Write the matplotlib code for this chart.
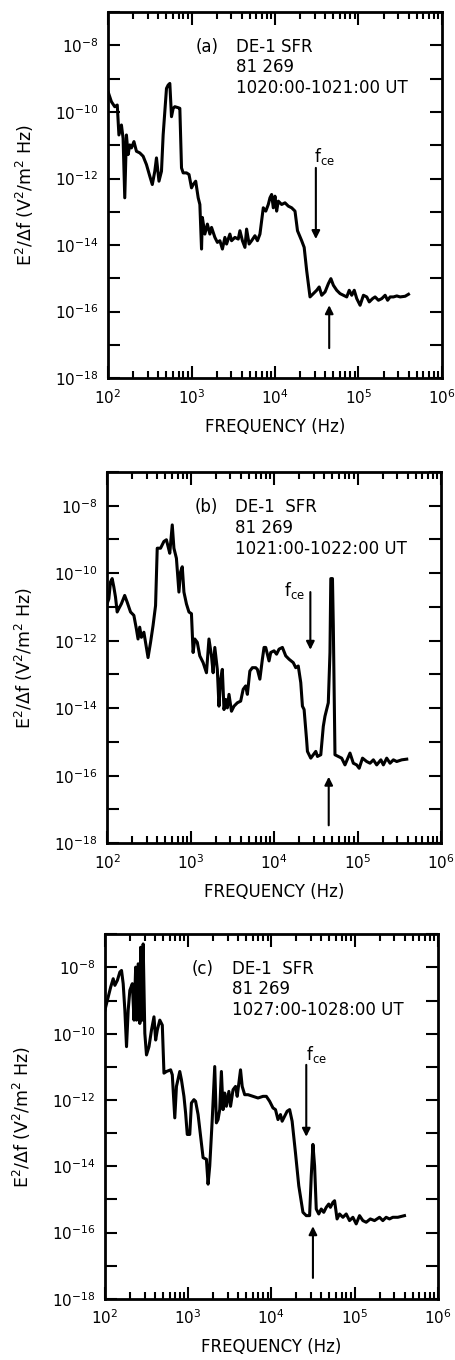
import matplotlib
matplotlib.use('Agg')
import matplotlib.pyplot as plt
from matplotlib.ticker import FixedLocator, LogLocator, NullFormatter, NullLocator, FuncFormatter
import numpy as np

plt.rcParams['font.family'] = ['DejaVu Sans']
plt.rcParams['mathtext.default'] = 'regular'

# spectra: log10 frequency (Hz), log10 E^2/df (V^2/m^2 Hz)
logf_a = [2.00, 2.04, 2.08, 2.11, 2.13, 2.16, 2.18, 2.20, 2.22, 2.24,
          2.26, 2.28, 2.31, 2.34, 2.38, 2.42, 2.46, 2.50, 2.53, 2.56,
          2.58, 2.61, 2.64, 2.66, 2.70, 2.72, 2.74, 2.76, 2.78, 2.80,
          2.84, 2.86, 2.88, 2.90, 2.94, 2.97, 3.00, 3.02, 3.05, 3.08,
          3.10, 3.12, 3.13, 3.16, 3.19, 3.22, 3.24, 3.28, 3.31, 3.34,
          3.37, 3.40, 3.42, 3.46, 3.48, 3.52, 3.56, 3.58, 3.61, 3.64,
          3.66, 3.69, 3.72, 3.76, 3.79, 3.82, 3.86, 3.89, 3.92, 3.94,
          3.96, 3.98, 4.00, 4.02, 4.04, 4.08, 4.12, 4.16, 4.20, 4.24,
          4.27, 4.32, 4.35, 4.38, 4.42, 4.46, 4.50, 4.53, 4.56, 4.60,
          4.64, 4.67, 4.70, 4.74, 4.78, 4.82, 4.86, 4.89, 4.92, 4.95,
          4.98, 5.02, 5.06, 5.10, 5.13, 5.17, 5.20, 5.24, 5.28, 5.32,
          5.35, 5.38, 5.42, 5.46, 5.50, 5.56, 5.60]
loge_a = [-9.39, -9.69, -9.84, -9.79, -10.69, -10.39, -10.79, -12.58, -10.69, -11.28,
          -10.99, -11.08, -10.89, -11.18, -11.23, -11.33, -11.58, -11.93, -12.18, -11.78,
          -11.38, -12.08, -11.78, -10.69, -9.29, -9.19, -9.14, -10.14, -9.89, -9.84,
          -9.87, -9.89, -11.68, -11.83, -11.83, -11.88, -12.28, -12.18, -12.08, -12.58,
          -12.78, -14.12, -13.17, -13.67, -13.37, -13.67, -13.47, -13.77, -13.92, -13.87,
          -14.12, -13.77, -13.97, -13.67, -13.87, -13.77, -13.82, -13.57, -13.87, -14.07,
          -13.52, -13.97, -13.87, -13.72, -13.87, -13.67, -12.88, -12.98, -12.78, -12.58,
          -12.48, -12.88, -12.53, -12.98, -12.68, -12.78, -12.73, -12.83, -12.88, -12.98,
          -13.57, -13.87, -14.07, -14.77, -15.56, -15.46, -15.36, -15.26, -15.51, -15.41,
          -15.16, -15.01, -15.21, -15.36, -15.46, -15.51, -15.56, -15.36, -15.51, -15.36,
          -15.61, -15.81, -15.51, -15.56, -15.71, -15.61, -15.56, -15.66, -15.61, -15.51,
          -15.66, -15.56, -15.56, -15.53, -15.56, -15.54, -15.48]

logf_b = [2.00, 2.02, 2.04, 2.06, 2.08, 2.10, 2.12, 2.14, 2.17, 2.21, 2.24,
          2.28, 2.32, 2.35, 2.37, 2.39, 2.41, 2.44, 2.46, 2.49, 2.52,
          2.55, 2.58, 2.60, 2.64, 2.68, 2.71, 2.73, 2.75, 2.78, 2.80,
          2.83, 2.86, 2.88, 2.90, 2.92, 2.95, 2.98, 3.01, 3.03, 3.05,
          3.08, 3.11, 3.15, 3.19, 3.22, 3.25, 3.27, 3.29, 3.32, 3.34,
          3.36, 3.38, 3.40, 3.42, 3.44, 3.46, 3.49, 3.52, 3.56, 3.60,
          3.63, 3.66, 3.68, 3.71, 3.74, 3.78, 3.80, 3.83, 3.86, 3.88,
          3.90, 3.94, 3.96, 4.00, 4.03, 4.06, 4.10, 4.14, 4.18, 4.23,
          4.26, 4.29, 4.32, 4.34, 4.36, 4.39, 4.40, 4.44, 4.47, 4.50,
          4.52, 4.56, 4.59, 4.61, 4.65, 4.67, 4.68, 4.70, 4.71, 4.73,
          4.77, 4.81, 4.85, 4.91, 4.95, 4.99, 5.02, 5.06, 5.11, 5.15,
          5.19, 5.23, 5.28, 5.31, 5.35, 5.39, 5.43, 5.47, 5.53, 5.59]
loge_b = [-10.90, -10.76, -10.26, -10.16, -10.41, -10.71, -11.15, -11.05, -10.91, -10.66, -10.86,
          -11.15, -11.25, -11.65, -11.95, -11.60, -11.90, -11.75, -12.05, -12.50, -12.05,
          -11.55, -10.96, -9.26, -9.26, -9.06, -9.01, -9.21, -9.41, -8.57, -9.26,
          -9.56, -10.56, -9.96, -9.81, -10.56, -10.91, -11.15, -11.20, -12.35, -11.95,
          -12.05, -12.45, -12.65, -12.95, -11.95, -12.45, -12.95, -12.20, -12.85, -13.94,
          -13.14, -12.85, -14.04, -13.74, -13.99, -13.59, -14.09, -13.94, -13.84, -13.79,
          -13.44, -13.34, -13.59, -12.90, -12.80, -12.80, -12.85, -13.14, -12.55, -12.20,
          -12.20, -12.60, -12.35, -12.30, -12.40, -12.25, -12.20, -12.45, -12.55, -12.65,
          -12.80, -12.75, -13.24, -13.94, -14.04, -14.94, -15.28, -15.48, -15.38, -15.28,
          -15.43, -15.38, -14.54, -14.24, -13.84, -12.35, -10.16, -10.16, -11.55, -15.38,
          -15.43, -15.48, -15.68, -15.33, -15.63, -15.68, -15.78, -15.48, -15.58, -15.63,
          -15.53, -15.68, -15.53, -15.68, -15.48, -15.63, -15.53, -15.58, -15.53, -15.51]

logf_c = [2.00, 2.01, 2.04, 2.07, 2.10, 2.12, 2.15, 2.18, 2.20, 2.22, 2.24,
          2.26, 2.28, 2.30, 2.33, 2.35, 2.37, 2.38, 2.40, 2.42, 2.43,
          2.45, 2.46, 2.48, 2.50, 2.53, 2.56, 2.59, 2.61, 2.63, 2.66,
          2.69, 2.71, 2.74, 2.79, 2.81, 2.84, 2.86, 2.90, 2.92, 2.95,
          2.97, 2.99, 3.02, 3.04, 3.07, 3.09, 3.12, 3.15, 3.18, 3.22,
          3.24, 3.26, 3.29, 3.32, 3.34, 3.36, 3.38, 3.40, 3.42, 3.44,
          3.46, 3.49, 3.51, 3.54, 3.57, 3.59, 3.61, 3.63, 3.65, 3.68,
          3.72, 3.78, 3.84, 3.90, 3.94, 3.98, 4.02, 4.05, 4.08, 4.11,
          4.13, 4.16, 4.19, 4.22, 4.25, 4.29, 4.33, 4.38, 4.42, 4.46,
          4.48, 4.50, 4.52, 4.54, 4.57, 4.60, 4.63, 4.66, 4.69, 4.71,
          4.74, 4.76, 4.79, 4.82, 4.86, 4.90, 4.94, 4.98, 5.02, 5.06,
          5.10, 5.14, 5.19, 5.24, 5.30, 5.34, 5.38, 5.42, 5.46, 5.52, 5.60]
loge_c = [-9.30, -9.19, -8.89, -8.59, -8.34, -8.54, -8.39, -8.14, -8.09, -8.49, -9.29,
          -10.39, -9.29, -8.69, -8.49, -9.59, -7.99, -9.59, -7.89, -9.69, -7.39,
          -9.59, -7.29, -9.99, -10.64, -10.39, -9.89, -9.49, -10.19, -9.89, -9.59,
          -9.74, -11.19, -11.14, -11.09, -11.24, -12.54, -11.59, -11.14, -11.39, -11.89,
          -12.39, -13.04, -13.04, -12.09, -11.99, -12.04, -12.44, -13.09, -13.74, -13.79,
          -14.54, -13.99, -12.59, -10.99, -12.69, -12.59, -12.29, -11.14, -12.29, -11.79,
          -12.19, -11.74, -12.19, -11.69, -11.59, -11.89, -11.49, -11.09, -11.59, -11.84,
          -11.84, -11.89, -11.94, -11.89, -11.89, -12.04, -12.24, -12.29, -12.59, -12.44,
          -12.64, -12.49, -12.34, -12.29, -12.64, -13.59, -14.59, -15.39, -15.49, -15.49,
          -14.29, -13.34, -13.99, -15.29, -15.44, -15.29, -15.39, -15.24, -15.14, -15.24,
          -15.09, -15.04, -15.59, -15.44, -15.54, -15.44, -15.64, -15.54, -15.74, -15.49,
          -15.64, -15.69, -15.59, -15.64, -15.54, -15.64, -15.54, -15.59, -15.54, -15.54, -15.49]

tags = ['(a)', '(b)', '(c)']
heads = ['DE-1 SFR', 'DE-1  SFR', 'DE-1  SFR']
days = ['81 269', '81 269', '81 269']
times = ['1020:00-1021:00 UT', '1021:00-1022:00 UT', '1027:00-1028:00 UT']

# f_ce label (log f, log E), down arrow (log f, tail, head), up arrow (log f, tail, head)
fce_label = [(4.47, -11.33), (4.12, -10.51), (4.42, -10.64)]
fce_down = [(4.49, -11.68, -13.82), (4.435, -10.56, -12.27), (4.42, -10.94, -13.11)]
fce_up = [(4.65, -17.10, -15.81), (4.655, -17.47, -16.03), (4.50, -17.37, -15.81)]

panels = [(logf_a, loge_a), (logf_b, loge_b), (logf_c, loge_c)]
rects = [[0.237, 0.722, 0.732, 0.269],
         [0.235, 0.380, 0.732, 0.273],
         [0.230, 0.045, 0.730, 0.268]]


def ylab(v, pos):
    e = int(round(np.log10(v)))
    return r'$10^{%d}$' % e if e % 2 == 0 else ''


fig = plt.figure(figsize=(4.56, 13.6), dpi=100)

for i, (lf, le) in enumerate(panels):
    ax = fig.add_axes(rects[i])
    ax.plot(10 ** np.array(lf), 10 ** np.array(le), color='black', lw=2.2)
    ax.set_xscale('log')
    ax.set_yscale('log')
    ax.set_xlim(1e2, 1e6)
    ax.set_ylim(1e-18, 1e-7)

    ax.yaxis.set_major_locator(FixedLocator(10.0 ** np.arange(-18, -6)))
    ax.yaxis.set_minor_locator(NullLocator())
    ax.yaxis.set_major_formatter(FuncFormatter(ylab))
    ax.xaxis.set_major_locator(LogLocator(10))
    ax.xaxis.set_minor_locator(LogLocator(10, subs=np.arange(2, 10)))
    ax.xaxis.set_minor_formatter(NullFormatter())
    ax.tick_params(which='both', direction='in', top=True, right=True, width=1.5,
                   labelsize=11, pad=7)
    ax.tick_params(axis='y', which='major', length=8.5)
    ax.tick_params(axis='x', which='major', length=9)
    ax.tick_params(axis='x', which='minor', length=5)
    for s in ax.spines.values():
        s.set_linewidth(2.0)

    ax.set_xlabel('FREQUENCY (Hz)', fontsize=12, labelpad=8)
    ax.set_ylabel(r'E$^2$/$\Delta$f (V$^2$/m$^2$ Hz)', fontsize=12.5)
    ax.yaxis.set_label_coords(-0.215, 0.5)

    ax.text(0.262, 0.905, tags[i], transform=ax.transAxes, fontsize=12, va='center')
    ax.text(0.382, 0.905, heads[i], transform=ax.transAxes, fontsize=12, va='center')
    ax.text(0.382, 0.850, days[i], transform=ax.transAxes, fontsize=12, va='center')
    ax.text(0.382, 0.793, times[i], transform=ax.transAxes, fontsize=12, va='center')

    lx, ly = fce_label[i]
    ax.text(10 ** lx, 10 ** ly, r'f$_{ce}$', fontsize=12, ha='left', va='center')
    dx, dt, dh = fce_down[i]
    ax.annotate('', xy=(10 ** dx, 10 ** dh), xytext=(10 ** dx, 10 ** dt),
                arrowprops=dict(arrowstyle='-|>', color='black', lw=1.5,
                                mutation_scale=12, shrinkA=0, shrinkB=0))
    ux, ut, uh = fce_up[i]
    ax.annotate('', xy=(10 ** ux, 10 ** uh), xytext=(10 ** ux, 10 ** ut),
                arrowprops=dict(arrowstyle='-|>', color='black', lw=1.5,
                                mutation_scale=12, shrinkA=0, shrinkB=0))

fig.savefig('out.png', dpi=100)
